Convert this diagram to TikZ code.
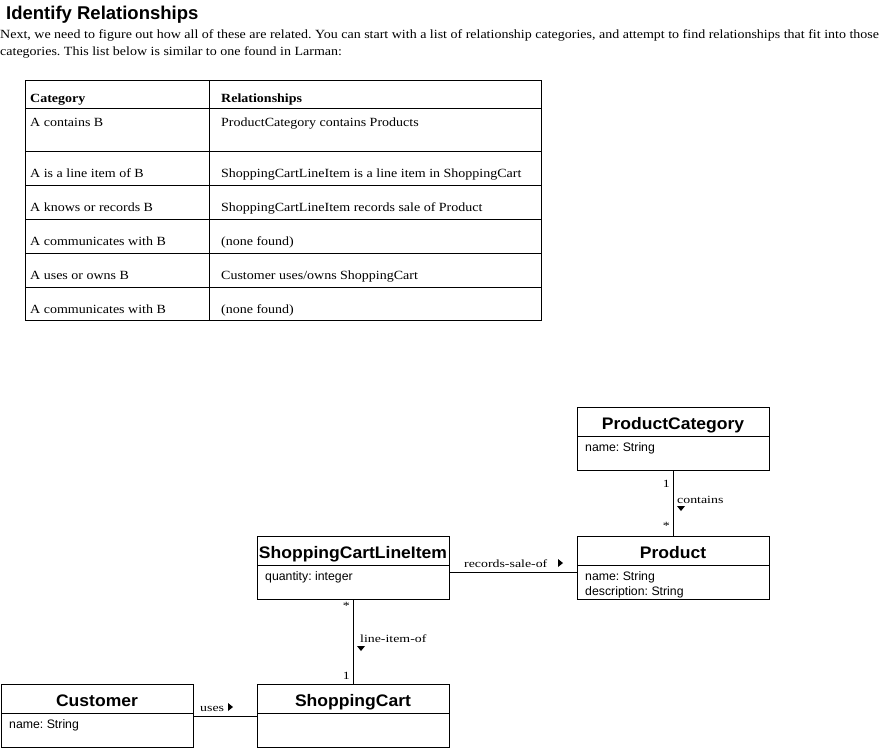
\documentclass[tikz,border=0pt]{standalone}
\usepackage{fontspec}
\setmainfont{Liberation Serif}
\newfontfamily\bodyfont[FakeStretch=1.12]{Liberation Serif}
\newfontfamily\lblfont[FakeStretch=1.26]{Liberation Serif}
\newfontfamily\umlsans{Liberation Sans}
\newfontfamily\umlbold[FakeStretch=1.05]{Liberation Sans}
\newfontfamily\titlefont{Liberation Sans}
\frenchspacing
\begin{document}
\begin{tikzpicture}[x=1pt,y=-1pt,
  lw/.style={line width=1pt},
  bodytext/.style={anchor=base west, inner sep=0, font=\bodyfont\fontsize{12.5}{14}\selectfont},
  headtext/.style={anchor=base west, inner sep=0, font=\bodyfont\bfseries\fontsize{12.5}{14}\selectfont},
  umlbox/.style={draw, line width=1pt, minimum width=192pt, minimum height=63pt, anchor=north west, inner sep=0},
  umltitle/.style={anchor=base, inner sep=0, font=\umlbold\bfseries\fontsize{16.7}{18}\selectfont},
  umlattr/.style={anchor=base west, inner sep=0, font=\umlsans\fontsize{12.3}{14}\selectfont},
  lbl/.style={anchor=base west, inner sep=0, font=\lblfont\fontsize{11}{12}\selectfont},
  mult/.style={anchor=base east, inner sep=0, font=\lblfont\fontsize{11}{12}\selectfont},
  tri/.style={fill=black}
]
\useasboundingbox (0,0) rectangle (887,748);
% heading and text
\node[anchor=base west, inner sep=0, font=\titlefont\bfseries\fontsize{18.5}{20}\selectfont] (title) at (6,19) {Identify Relationships};
\node[bodytext] (p1) at (0,38) {Next, we need to figure out how all of these are related. You can start with a list of relationship categories, and attempt to find relationships that fit into those};
\node[bodytext] (p2) at (0,55) {categories. This list below is similar to one found in Larman:};
% table
\node[draw, line width=1pt, anchor=north west, minimum width=516pt, minimum height=240pt, inner sep=0] (tbl) at (25,80) {};
\draw[lw] (209,80) -- (209,320);
\foreach \yy in {108,151,185,219,253,287} \draw[lw] (25,\yy) -- (541,\yy);
\node[headtext] (h1) at (30,102) {Category};
\node[headtext] (h2) at (221,102) {Relationships};
\node[bodytext] (c1) at (30,126) {A contains B};
\node[bodytext] (r1) at (221,126) {ProductCategory contains Products};
\node[bodytext] (c2) at (30,177) {A is a line item of B};
\node[bodytext] (r2) at (221,177) {ShoppingCartLineItem is a line item in ShoppingCart};
\node[bodytext] (c3) at (30,211) {A knows or records B};
\node[bodytext] (r3) at (221,211) {ShoppingCartLineItem records sale of Product};
\node[bodytext] (c4) at (30,245) {A communicates with B};
\node[bodytext] (r4) at (221,245) {(none found)};
\node[bodytext] (c5) at (30,279) {A uses or owns B};
\node[bodytext] (r5) at (221,279) {Customer uses/owns ShoppingCart};
\node[bodytext] (c6) at (30,313) {A communicates with B};
\node[bodytext] (r6) at (221,313) {(none found)};
% UML boxes
\node[umlbox] (pc) at (577,407) {};
\draw[lw] ([yshift=-29pt]pc.north west) -- ([yshift=-29pt]pc.north east);
\node[umltitle] (pct) at (673,429) {ProductCategory};
\node[umlattr] (pca) at (585,451) {name: String};

\node[umlbox] (pr) at (577,536) {};
\draw[lw] ([yshift=-29pt]pr.north west) -- ([yshift=-29pt]pr.north east);
\node[umltitle] (prt) at (673,558) {Product};
\node[umlattr] (pra) at (585,580) {name: String};
\node[umlattr] (prb) at (585,595) {description: String};

\node[umlbox] (li) at (257,536) {};
\draw[lw] ([yshift=-29pt]li.north west) -- ([yshift=-29pt]li.north east);
\node[umltitle] (lit) at (353,558) {ShoppingCartLineItem};
\node[umlattr] (lia) at (265,580) {quantity: integer};

\node[umlbox] (cu) at (1,684) {};
\draw[lw] ([yshift=-29pt]cu.north west) -- ([yshift=-29pt]cu.north east);
\node[umltitle] (cut) at (97,706) {Customer};
\node[umlattr] (cua) at (9,728) {name: String};

\node[umlbox] (sc) at (257,684) {};
\draw[lw] ([yshift=-29pt]sc.north west) -- ([yshift=-29pt]sc.north east);
\node[umltitle] (sct) at (353,706) {ShoppingCart};
% connectors
\draw[lw] (pc.south) -- (pr.north);
\node[mult] (m1) at (670,487) {1};
\node[mult] (m2) at (670,529) {*};
\node[lbl] (l1) at (677,503) {contains};
\fill[tri] (677,506) -- (685,506) -- (681,511) -- cycle;

\draw[lw] ([yshift=-4pt]li.east) coordinate (a1) -- (a1 -| pr.west);
\node[lbl] (l2) at (464,567) {records-sale-of};
\fill[tri] (558,559) -- (558,567) -- (563,563) -- cycle;

\draw[lw] (li.south) -- (sc.north);
\node[mult] (m3) at (350,609) {*};
\node[mult] (m4) at (350,679) {1};
\node[lbl] (l3) at (360,642) {line-item-of};
\fill[tri] (357,646) -- (365,646) -- (361,651) -- cycle;

\draw[lw] (cu.east) -- (sc.west);
\node[lbl] (l4) at (200,711) {uses};
\fill[tri] (228,703) -- (228,711) -- (233,707) -- cycle;
\end{tikzpicture}
\end{document}
